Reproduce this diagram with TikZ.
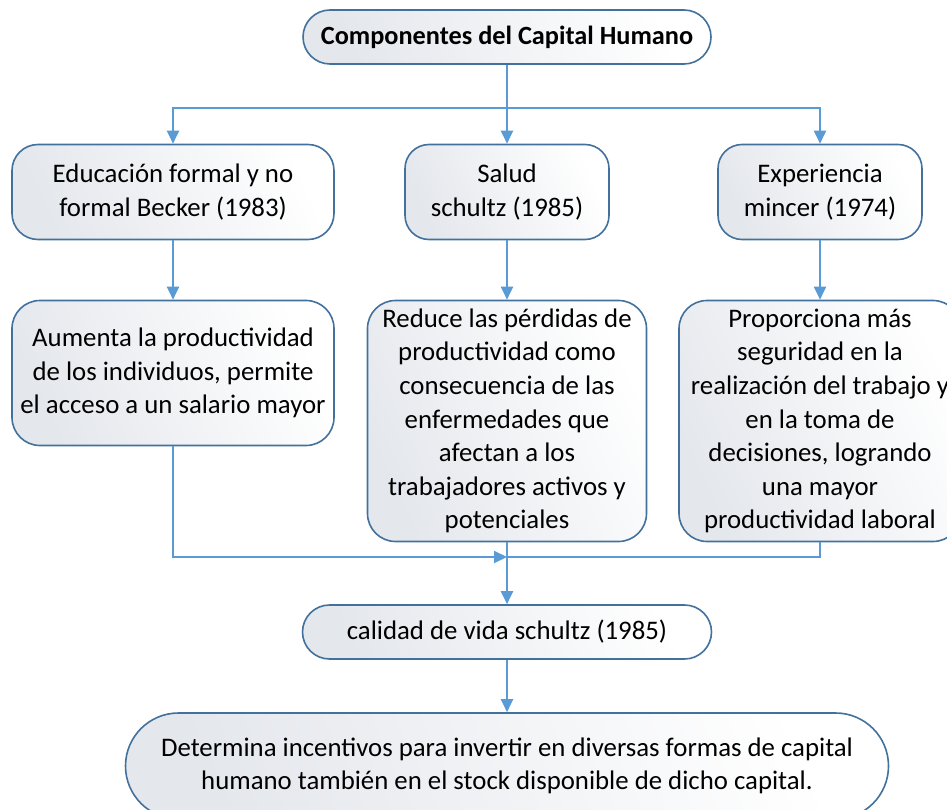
\documentclass[tikz,border=0pt]{standalone}
\usepackage{fontspec}
\setmainfont{Carlito}
\usetikzlibrary{arrows.meta}
\definecolor{boxline}{HTML}{41719C}
\definecolor{conn}{HTML}{5B9BD5}
\definecolor{boxshade}{HTML}{E4E7EC}
\tikzset{
  box/.style={draw=boxline, line width=1.6pt, shade, left color=boxshade, right color=white, shading angle=115,
    align=center, inner sep=0pt, font=\fontsize{26.8}{33.6}\selectfont},
  arr/.style={draw=conn, line width=2pt, -{Triangle[length=13pt,width=12pt]}},
  ln/.style={draw=conn, line width=2pt}
}
\begin{document}
\begin{tikzpicture}[x=1pt,y=-1pt]
\useasboundingbox (0,0) rectangle (947,810);
\clip (0,0) rectangle (947,810);
\node[box, minimum width=408pt, minimum height=54pt, rounded corners=27pt, font=\fontsize{26.3}{30}\selectfont\bfseries] (top) at (507,37) {Componentes del Capital Humano};
\node[box, minimum width=322pt, minimum height=95pt, rounded corners=26pt] (b1) at (173,192) {Educación formal y no\\formal Becker (1983)};
\node[box, minimum width=204pt, minimum height=95pt, rounded corners=24pt] (b2) at (507,192) {Salud\\schultz (1985)};
\node[box, minimum width=204pt, minimum height=95pt, rounded corners=24pt] (b3) at (820,192) {Experiencia\\mincer (1974)};
\node[box, minimum width=322pt, minimum height=145pt, rounded corners=28pt] (b4) at (173,373) {Aumenta la productividad\\de los individuos, permite\\el acceso a un salario mayor};
\node[box, minimum width=279pt, minimum height=241pt, rounded corners=28pt] (b5) at (507,421) {Reduce las pérdidas de\\productividad como\\consecuencia de las\\enfermedades que\\afectan a los\\trabajadores activos y\\potenciales};
\node[box, minimum width=282pt, minimum height=241pt, rounded corners=28pt] (b6) at (820,421) {Proporciona más\\seguridad en la\\realización del trabajo y\\en la toma de\\decisiones, logrando\\una mayor\\productividad laboral};
\node[box, minimum width=409pt, minimum height=54pt, rounded corners=27pt] (cal) at (507,632) {calidad de vida schultz (1985)};
\node[box, minimum width=763pt, minimum height=106pt, rounded corners=53pt] (bot) at (507,766) {Determina incentivos para invertir en diversas formas de capital\\humano también en el stock disponible de dicho capital.};
\coordinate (j1) at (507,108);
\coordinate (j2) at (507,557);
\draw[arr] (top.south) -- (b2.north);
\draw[arr] (j1) -| (b1.north);
\draw[arr] (j1) -| (b3.north);
\draw[arr] (b1.south) -- (b4.north);
\draw[arr] (b2.south) -- (b5.north);
\draw[arr] (b3.south) -- (b6.north);
\draw[arr] (b4.south) |- (j2);
\draw[ln] (b6.south) |- (j2);
\draw[arr] (b5.south) -- (cal.north);
\draw[arr] (cal.south) -- (bot.north);
\end{tikzpicture}
\end{document}
